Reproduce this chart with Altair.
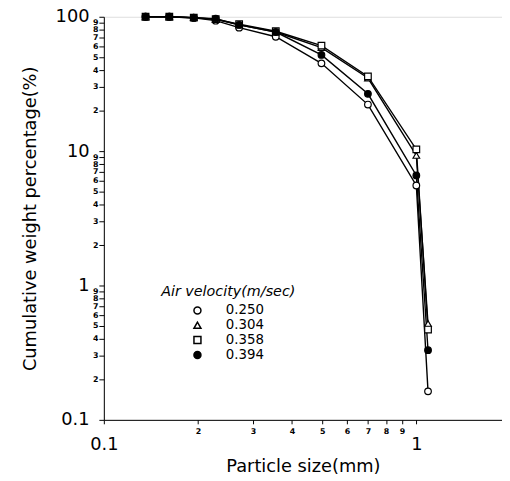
import altair as alt
import pandas as pd

sizes = [0.136, 0.162, 0.194, 0.228, 0.271, 0.355, 0.497, 0.70, 1.0, 1.09]
v250 = [100, 100, 98, 93.5, 83, 71, 45, 22.2, 5.55, 0.163]
v304 = [100, 100, 98.5, 95.5, 87, 77, 59, 35, 9.3, 0.52]
v358 = [100, 100, 98.5, 96, 88, 78, 61, 36, 10.3, 0.47]
v394 = [100, 100, 98.3, 96.7, 87, 77, 52, 26.7, 6.6, 0.33]
series = ["0.250", "0.304", "0.358", "0.394"]
shapes = ["circle", "triangle-up", "square", "circle"]
fills = ["white", "white", "white", "black"]

x_ticks = [0.1, 0.2, 0.3, 0.4, 0.5, 0.6, 0.7, 0.8, 0.9, 1, 2]
y_ticks = [0.1, 0.2, 0.3, 0.4, 0.5, 0.6, 0.7, 0.8, 0.9,
           1, 2, 3, 4, 5, 6, 7, 8, 9,
           10, 20, 30, 40, 50, 60, 70, 80, 90, 100]

rows = []
for name, vals in zip(series, [v250, v304, v358, v394]):
    for s, v in zip(sizes, vals):
        rows.append({"size": s, "pct": v, "series": name})
df = pd.DataFrame(rows)

major = "abs(log(datum.value)/LN10 - round(log(datum.value)/LN10)) < 0.001"
lbl = ("(" + major + ") ? datum.label : "
       "format(datum.value / pow(10, floor(log(datum.value)/LN10 + 1e-9)), '.0f')")

FONT = "DejaVu Sans"

x_enc = alt.X("size:Q",
              scale=alt.Scale(type="log", domain=[0.1, 1.88], nice=False),
              axis=alt.Axis(values=x_ticks, format="~g", labelExpr=lbl,
                            grid=False, tickSize=4, tickColor="black",
                            domainColor="black", labelColor="black",
                            labelFont=FONT,
                            labelFontSize={"condition": {"test": major, "value": 18}, "value": 8},
                            labelFontWeight={"condition": {"test": major, "value": "normal"}, "value": "bold"},
                            labelPadding={"condition": {"test": major, "value": 12}, "value": 4},
                            labelFlush=False, labelOverlap=False,
                            title="Particle size(mm)", titleFont=FONT,
                            titleFontSize=18, titleFontWeight="normal",
                            titleColor="black", titlePadding=4))
y_enc = alt.Y("pct:Q",
              scale=alt.Scale(type="log", domain=[0.1, 100], nice=False),
              axis=alt.Axis(values=y_ticks, format="~g", labelExpr=lbl,
                            grid=False, tickSize=5, tickColor="black",
                            domainColor="black", labelColor="black",
                            labelFont=FONT,
                            labelFontSize={"condition": {"test": major, "value": 18}, "value": 8},
                            labelFontWeight={"condition": {"test": major, "value": "normal"}, "value": "bold"},
                            labelPadding={"condition": {"test": major, "value": 10}, "value": 1},
                            labelFlush=False, labelOverlap=False,
                            title="Cumulative weight percentage(%)", titleFont=FONT,
                            titleFontSize=18, titleFontWeight="normal",
                            titleColor="black", titlePadding=16))

leg = alt.Legend(orient="none", legendX=58, legendY=272,
                 title="Air velocity(m/sec)",
                 titleFont=FONT, titleFontSize=14.5, titleFontStyle="italic",
                 titleFontWeight="normal", titleColor="black", titlePadding=4,
                 labelFont=FONT, labelFontSize=13.5, labelColor="black",
                 symbolSize=50, symbolOffset=30, labelOffset=22,
                 rowPadding=0, padding=0)

lines = alt.Chart(df).mark_line(color="black", strokeWidth=1.4).encode(
    x=x_enc, y=y_enc, detail="series:N")

points = alt.Chart(df).mark_point(filled=True, stroke="black", strokeWidth=1.2,
                                  size=45, opacity=1).encode(
    x=x_enc, y=y_enc,
    shape=alt.Shape("series:N", scale=alt.Scale(domain=series, range=shapes),
                    legend=leg, title="Air velocity(m/sec)"),
    fill=alt.Fill("series:N", scale=alt.Scale(domain=series, range=fills),
                  legend=leg, title="Air velocity(m/sec)"),
)

chart = alt.layer(lines, points).properties(
    width=403, height=408,
    autosize=alt.AutoSizeParams(type="none"),
    padding={"left": 97, "top": 6, "right": 0, "bottom": 58},
).configure_view(stroke="black", strokeWidth=1.2).configure(background="white")

chart.save("out.html", embed_options={"renderer": "svg", "actions": False})
